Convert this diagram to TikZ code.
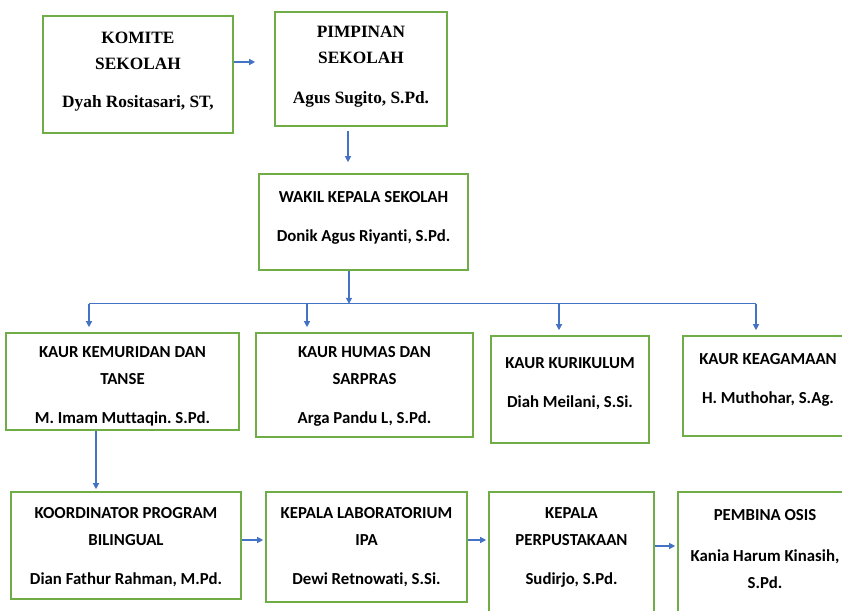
\documentclass[tikz,border=0pt]{standalone}
\usepackage{fontspec}
\setmainfont[Ligatures=NoCommon]{Carlito}
\newfontfamily\timesfont{Liberation Serif}
\usetikzlibrary{positioning, arrows.meta}
\frenchspacing
\definecolor{boxgreen}{HTML}{70AD47}
\definecolor{linkblue}{HTML}{4472C4}
\tikzstyle{org-base} = [rectangle, draw=boxgreen, line width=1.6pt, align=center,
 inner sep=0pt, font=\bfseries\fontsize{16.8}{27}\selectfont]
\tikzstyle{org-top} = [org-base, font=\timesfont\bfseries\fontsize{17.3}{26}\selectfont]
\tikzstyle{link} = [draw=linkblue, line width=1.2pt]
\tikzstyle{arrow} = [link, -{Triangle[length=6pt, width=6pt]}]
\newcommand{\namegap}{12pt}
\newcommand{\topstrut}[1]{\rule{0pt}{#1}}
\newcommand{\BusDrop}[2]{%
    \coordinate (#1_drop) at ([xshift=#2]#1.north);
    \draw[arrow, shorten >=5pt] (#1_drop |- BUS) -- (#1_drop);
}
\newcommand{\ArrowHor}[3]{%
    \draw[arrow, shorten >=2pt] ([yshift=#3]#1.east) -- ([yshift=#3]#1.east -| #2.west);
}

\begin{document}
\begin{tikzpicture}[x=1pt, y=-1pt]

\clip (0,0) rectangle (842,610);

% Top
\node (KOMITE) [org-top, minimum width=190pt, minimum height=117pt, text depth=10pt]
    at (138,74.5) {KOMITE\\SEKOLAH\\[12pt]Dyah Rositasari, ST,};
\node (PIMPINAN) [org-top, minimum width=172pt, minimum height=114pt, text depth=8pt]
    at (361,69) {PIMPINAN\\SEKOLAH\\[14pt]Agus Sugito, S.Pd.};
\node (WAKIL) [org-base, minimum width=209pt, minimum height=96pt, text depth=12pt]
    at (363.5,222) {WAKIL KEPALA SEKOLAH\\[\namegap]Donik Agus Riyanti, S.Pd.};

% Kaur
\node (KAUR_KEMURIDAN) [org-base, minimum width=233pt, minimum height=97pt]
    at (122.5,381.5) {\topstrut{21pt}KAUR KEMURIDAN DAN\\TANSE\\[\namegap]M. Imam Muttaqin. S.Pd.};
\node (KAUR_HUMAS) [org-base, minimum width=217pt, minimum height=104pt, text depth=-1.5pt]
    at (364.5,385) {KAUR HUMAS DAN\\SARPRAS\\[\namegap]Arga Pandu L, S.Pd.};
\node (KAUR_KURIKULUM) [org-base, minimum width=158pt, minimum height=107pt, text depth=13pt]
    at (570,389.5) {KAUR KURIKULUM\\[\namegap]Diah Meilani, S.Si.};
\node (KAUR_KEAGAMAAN) [org-base, minimum width=170pt, minimum height=100pt, text depth=16pt]
    at (768,386) {KAUR KEAGAMAAN\\[\namegap]H. Muthohar, S.Ag.};

% Bottom row
\node (KOORDINATOR) [org-base, minimum width=230pt, minimum height=107pt]
    at (126,545.5) {\topstrut{15pt}KOORDINATOR PROGRAM\\BILINGUAL\\[\namegap]Dian Fathur Rahman, M.Pd.};
\node (LAB_IPA) [org-base, minimum width=201pt, minimum height=110pt]
    at (366.5,547) {KEPALA LABORATORIUM\\IPA\\[\namegap]Dewi Retnowati, S.Si.};
\node (PERPUSTAKAAN) [org-base, minimum width=165pt, minimum height=133pt, text depth=25pt]
    at (571.5,558.5) {KEPALA\\PERPUSTAKAAN\\[\namegap]Sudirjo, S.Pd.};
\node (OSIS) [org-base, minimum width=174pt, minimum height=133pt, text depth=20pt]
    at (765,558.5) {PEMBINA OSIS\\[14pt]Kania Harum Kinasih,\\S.Pd.};

% Arrows top
\draw[arrow, shorten >=19pt] ([yshift=12.5pt]KOMITE.east) -- ([yshift=12.5pt]KOMITE.east -| PIMPINAN.west);
\draw[arrow, shorten <=4pt, shorten >=11pt] ([xshift=-13pt]PIMPINAN.south) -- ([xshift=-13pt]PIMPINAN.south |- WAKIL.north);

% Bus to kaur
\coordinate (BUS) at ([xshift=-14.5pt, yshift=-33pt]WAKIL.south);
\BusDrop{KAUR_KEMURIDAN}{-33.5pt}
\BusDrop{KAUR_HUMAS}{-57.5pt}
\BusDrop{KAUR_KURIKULUM}{-11pt}
\BusDrop{KAUR_KEAGAMAAN}{-12pt}
\draw[link] (KAUR_KEMURIDAN_drop |- BUS) -- (KAUR_KEAGAMAAN_drop |- BUS);
\draw[arrow] ([xshift=-14.5pt]WAKIL.south) -- (BUS);

% Arrows bottom
\draw[arrow, shorten >=2pt] ([xshift=-26.5pt]KAUR_KEMURIDAN.south) -- ([xshift=-26.5pt]KAUR_KEMURIDAN.south |- KOORDINATOR.north);
\ArrowHor{KOORDINATOR}{LAB_IPA}{5.5pt}
\ArrowHor{LAB_IPA}{PERPUSTAKAAN}{7pt}
\ArrowHor{PERPUSTAKAAN}{OSIS}{12.5pt}

\end{tikzpicture}
\end{document}
